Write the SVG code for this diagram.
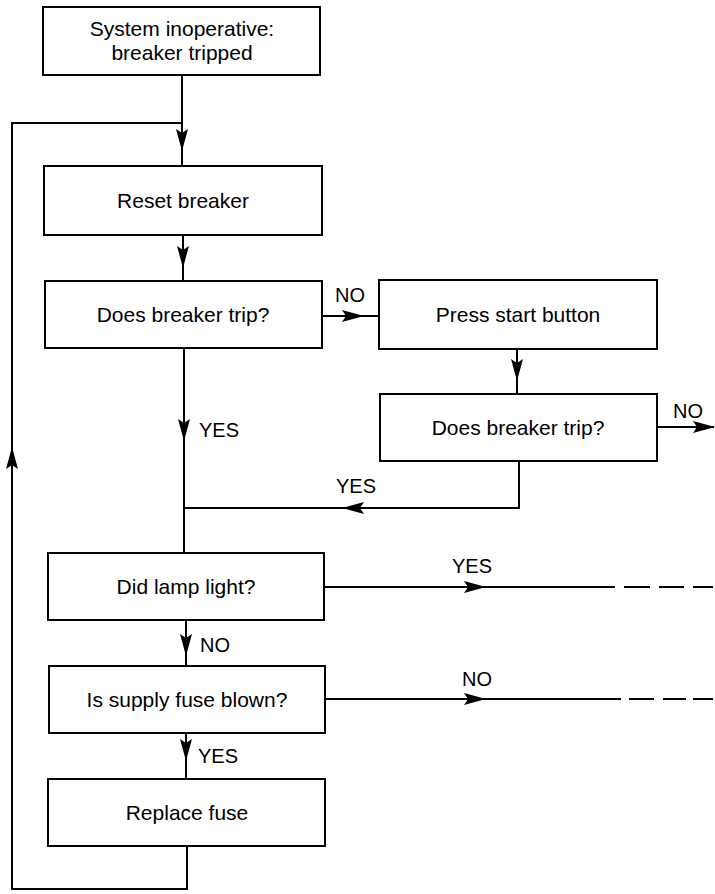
<svg xmlns="http://www.w3.org/2000/svg" width="715" height="894" viewBox="0 0 715 894">
  <style>
    .box rect { fill: #fff; stroke: #000; stroke-width: 2; }
    .box text { font-family: "Liberation Sans", Arial, sans-serif; font-size: 21px; fill: #000; text-anchor: middle; }
    .wire { fill: none; stroke: #000; stroke-width: 2; }
    .dash { fill: none; stroke: #000; stroke-width: 2; }
    .lbl { font-family: "Liberation Sans", Arial, sans-serif; font-size: 20px; fill: #000; }
  </style>
  <defs>
    <marker id="ah" markerUnits="userSpaceOnUse" markerWidth="26" markerHeight="16" viewBox="-23 -8 26 16" refX="0" refY="0" orient="auto">
      <path d="M1,0 L-21,-6 L-17,0 L-21,6 Z" fill="#000"/>
    </marker>
  </defs>
  <rect width="715" height="894" fill="#fff"/>

  <!-- connectors -->
  <g id="connectors">
    <!-- start to reset -->
    <path class="wire" d="M182,75 V166"/>
    <path class="wire" d="M182,130 V150" marker-end="url(#ah)"/>
    <!-- return loop from replace fuse -->
    <path class="wire" d="M187,846 V889 H12 V123 H182"/>
    <path class="wire" d="M12,480 V448" marker-end="url(#ah)"/>
    <!-- reset to first trip test -->
    <path class="wire" d="M183,235 V281"/>
    <path class="wire" d="M183,250 V267" marker-end="url(#ah)"/>
    <!-- NO to press start -->
    <path class="wire" d="M322,316 H379"/>
    <path class="wire" d="M340,316 H363" marker-end="url(#ah)"/>
    <!-- press start to second trip test -->
    <path class="wire" d="M517,349 V394"/>
    <path class="wire" d="M517,360 V380" marker-end="url(#ah)"/>
    <!-- second trip test NO exit -->
    <path class="wire" d="M657,427 H714" marker-end="url(#ah)"/>
    <!-- second trip test YES back to main line -->
    <path class="wire" d="M519,461 V508 H184"/>
    <path class="wire" d="M365,508 H343" marker-end="url(#ah)"/>
    <!-- first trip test YES down to lamp test -->
    <path class="wire" d="M184,348 V553"/>
    <path class="wire" d="M184,420 V440" marker-end="url(#ah)"/>
    <!-- lamp NO to fuse test -->
    <path class="wire" d="M186,620 V666"/>
    <path class="wire" d="M186,636 V655" marker-end="url(#ah)"/>
    <!-- fuse YES to replace fuse -->
    <path class="wire" d="M186,733 V779"/>
    <path class="wire" d="M186,742 V760" marker-end="url(#ah)"/>
    <!-- lamp YES exit -->
    <path class="wire" d="M324,587 H615"/>
    <path class="wire" d="M460,587 H485" marker-end="url(#ah)"/>
    <path class="dash" d="M624,587 H650 M659,587 H684 M693,587 H713"/>
    <!-- fuse NO exit -->
    <path class="wire" d="M325,699 H621"/>
    <path class="wire" d="M460,699 H485" marker-end="url(#ah)"/>
    <path class="dash" d="M629,699 H654 M663,699 H686 M693,699 H713"/>
  </g>

  <!-- connector labels -->
  <g id="labels">
    <text class="lbl" x="335" y="302">NO</text>
    <text class="lbl" x="673" y="418">NO</text>
    <text class="lbl" x="199" y="437">YES</text>
    <text class="lbl" x="336" y="493">YES</text>
    <text class="lbl" x="452" y="573">YES</text>
    <text class="lbl" x="200" y="652">NO</text>
    <text class="lbl" x="462" y="686">NO</text>
    <text class="lbl" x="198" y="763">YES</text>
  </g>

  <!-- nodes -->
  <g id="n-start" class="box">
    <rect x="43" y="7" width="277" height="68"/>
    <text x="182" y="36">System inoperative:</text>
    <text x="182" y="60">breaker tripped</text>
  </g>
  <g id="n-reset" class="box">
    <rect x="44" y="166" width="278" height="69"/>
    <text x="183" y="208">Reset breaker</text>
  </g>
  <g id="n-trip1" class="box">
    <rect x="45" y="281" width="277" height="67"/>
    <text x="183" y="322">Does breaker trip?</text>
  </g>
  <g id="n-press" class="box">
    <rect x="379" y="280" width="278" height="69"/>
    <text x="518" y="322">Press start button</text>
  </g>
  <g id="n-trip2" class="box">
    <rect x="380" y="394" width="277" height="67"/>
    <text x="518" y="435">Does breaker trip?</text>
  </g>
  <g id="n-lamp" class="box">
    <rect x="48" y="553" width="276" height="67"/>
    <text x="186" y="594">Did lamp light?</text>
  </g>
  <g id="n-fuse" class="box">
    <rect x="49" y="666" width="276" height="67"/>
    <text x="187" y="707">Is supply fuse blown?</text>
  </g>
  <g id="n-replace" class="box">
    <rect x="48" y="779" width="277" height="67"/>
    <text x="187" y="820">Replace fuse</text>
  </g>
</svg>
